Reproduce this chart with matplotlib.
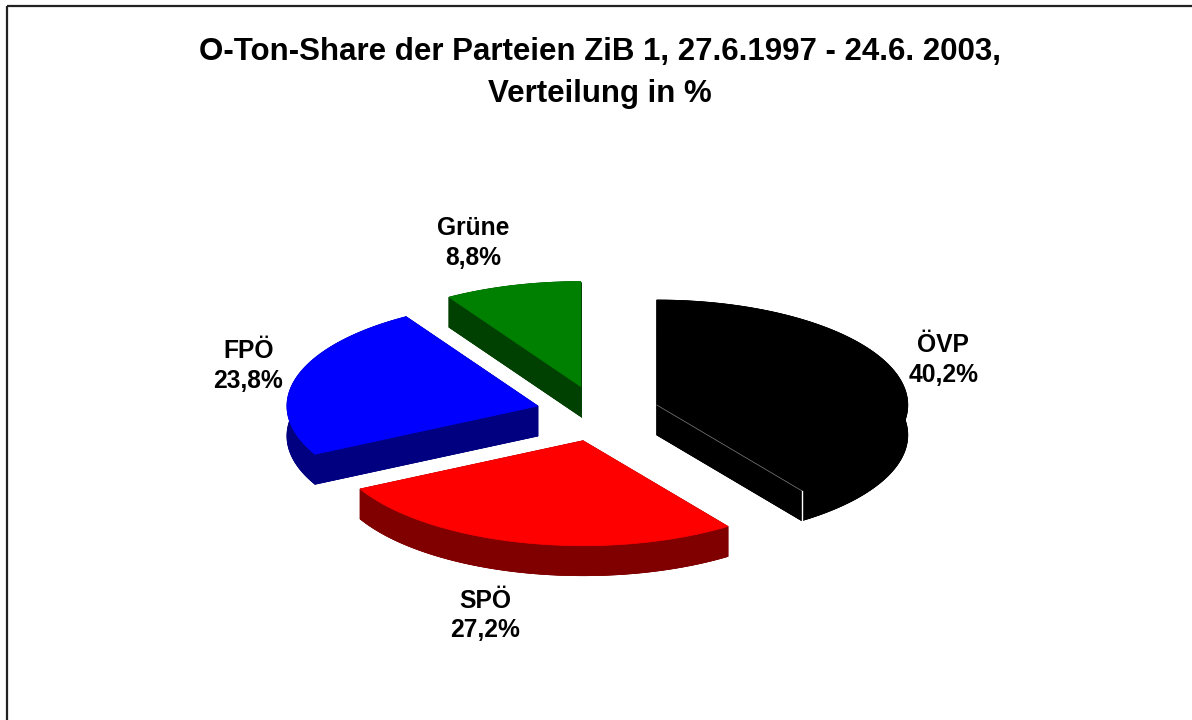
import numpy as np
import matplotlib.pyplot as plt
from matplotlib.patches import Polygon, Rectangle

# data
parties = ['ÖVP', 'SPÖ', 'FPÖ', 'Grüne']
shares = [40.2, 27.2, 23.8, 8.8]
top_colors = ['#000000', '#FF0000', '#0000FF', '#008000']
side_colors = ['#000000', '#800000', '#000080', '#004000']
title = 'O-Ton-Share der Parteien ZiB 1, 27.6.1997 - 24.6. 2003,\nVerteilung in %'

# layout of the 3d pie (pixels)
X, Y = 597.7, 413.5
rx, ry = 251, 105
depth = 30
ex, ey = 62, 28
start = 90

fig = plt.figure(figsize=(11.92, 7.2), dpi=100)
ax = fig.add_axes([0, 0, 1, 1])
ax.set_xlim(0, 1192)
ax.set_ylim(720, 0)
ax.axis('off')

ax.add_patch(Rectangle((7, 6), 1300, 900, fill=False, lw=1.6, edgecolor='#222222'))
ax.text(600, 73, title, ha='center', va='center', fontsize=22.5, fontweight='bold',
        family='Liberation Sans', linespacing=1.5)

slices = []
cum = 0
for i, s in enumerate(shares):
    t1 = start - cum * 3.6
    t2 = t1 - s * 3.6
    cum += s
    mid = np.radians((t1 + t2) / 2)
    cx = X + ex * np.cos(mid)
    cy = Y - ey * np.sin(mid)
    slices.append((cy, i, t1, t2, mid, cx))

# back to front
for cy, i, t1, t2, mid, cx in sorted(slices):
    t = np.radians(np.linspace(t1, t2, 200))
    arc = np.column_stack([cx + rx * np.cos(t), cy - ry * np.sin(t)])
    low = arc + [0, depth]
    c = np.array([cx, cy])
    cl = c + [0, depth]
    sc = side_colors[i]
    parts = [np.vstack([cl, low]),
             np.vstack([arc, low[::-1]]),
             np.array([c, arc[0], low[0], cl]),
             np.array([c, arc[-1], low[-1], cl])]
    for p in parts:
        ax.add_patch(Polygon(p, closed=True, facecolor=sc, edgecolor=sc, lw=0.5))
    ax.add_patch(Polygon(np.vstack([c, arc]), closed=True, facecolor=top_colors[i],
                         edgecolor=top_colors[i], lw=0.5))
    if i == 0:
        ax.plot([c[0], arc[-1, 0]], [c[1], arc[-1, 1]], color='#808080', lw=0.5)
        ax.plot([arc[-1, 0], low[-1, 0]], [arc[-1, 1], low[-1, 1]], color='white', lw=1)

    lx = cx + (rx + 12) * np.cos(mid) + 36 * np.sign(np.cos(mid))
    ly = cy - (ry + 44) * np.sin(mid) + (depth if np.sin(mid) < 0 else 0)
    label = parties[i] + '\n' + ('%.1f%%' % shares[i]).replace('.', ',')
    ax.text(lx, ly, label, ha='center', va='center', fontsize=17.7, fontweight='bold',
            family='Liberation Sans', linespacing=1.3)

fig.savefig('out.png', dpi=100)
